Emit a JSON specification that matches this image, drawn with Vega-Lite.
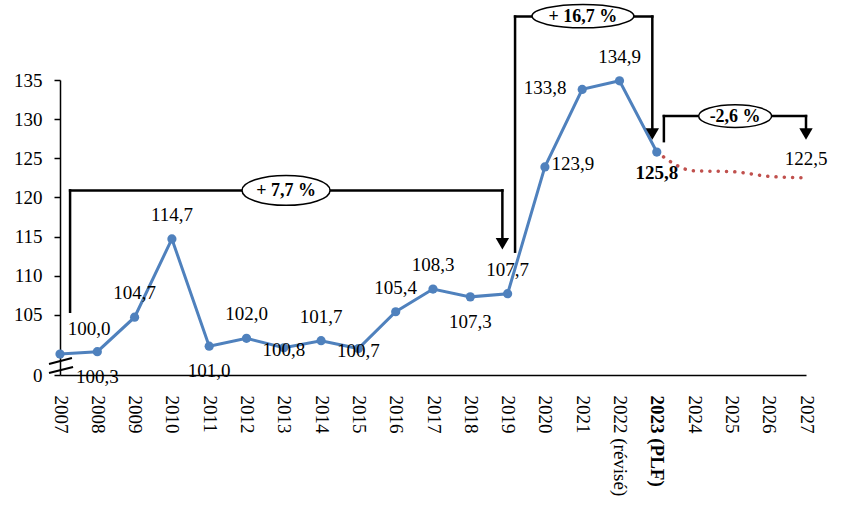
{
  "$schema": "https://vega.github.io/schema/vega-lite/v6.json",
  "width": 746,
  "height": 295,
  "autosize": {"type": "none"},
  "padding": {"left": 60, "top": 80, "right": 36, "bottom": 137},
  "background": "white",
  "config": {"view": {"stroke": null}, "font": "Liberation Serif", "text": {"font": "Liberation Serif", "color": "black"}},
  "datasets": {
    "serie": [
      {"year": 2007, "value": 100.0}, {"year": 2008, "value": 100.3}, {"year": 2009, "value": 104.7},
      {"year": 2010, "value": 114.7}, {"year": 2011, "value": 101.0}, {"year": 2012, "value": 102.0},
      {"year": 2013, "value": 100.8}, {"year": 2014, "value": 101.7}, {"year": 2015, "value": 100.7},
      {"year": 2016, "value": 105.4}, {"year": 2017, "value": 108.3}, {"year": 2018, "value": 107.3},
      {"year": 2019, "value": 107.7}, {"year": 2020, "value": 123.9}, {"year": 2021, "value": 133.8},
      {"year": 2022, "value": 134.9}, {"year": 2023, "value": 125.8}
    ],
    "prev": [
      {"year": 2023, "value": 125.8}, {"year": 2024, "value": 123.4}, {"year": 2025, "value": 123.3},
      {"year": 2026, "value": 122.7}, {"year": 2027, "value": 122.5}
    ],
    "etiq": [
      {"year": 2007, "value": 100.0, "label": "100,0", "pos": "hautdroite"},
      {"year": 2008, "value": 100.3, "label": "100,3", "pos": "bas"},
      {"year": 2009, "value": 104.7, "label": "104,7", "pos": "haut"},
      {"year": 2010, "value": 114.7, "label": "114,7", "pos": "haut"},
      {"year": 2011, "value": 101.0, "label": "101,0", "pos": "bas"},
      {"year": 2012, "value": 102.0, "label": "102,0", "pos": "haut"},
      {"year": 2013, "value": 100.8, "label": "100,8", "pos": "sur"},
      {"year": 2014, "value": 101.7, "label": "101,7", "pos": "haut"},
      {"year": 2015, "value": 100.7, "label": "100,7", "pos": "sur"},
      {"year": 2016, "value": 105.4, "label": "105,4", "pos": "haut"},
      {"year": 2017, "value": 108.3, "label": "108,3", "pos": "haut"},
      {"year": 2018, "value": 107.3, "label": "107,3", "pos": "bas"},
      {"year": 2019, "value": 107.7, "label": "107,7", "pos": "haut"},
      {"year": 2020, "value": 123.9, "label": "123,9", "pos": "droite"},
      {"year": 2021, "value": 133.8, "label": "133,8", "pos": "gauche"},
      {"year": 2022, "value": 134.9, "label": "134,9", "pos": "haut"},
      {"year": 2023, "value": 125.8, "label": "125,8", "pos": "basgras"},
      {"year": 2027, "value": 122.5, "label": "122,5", "pos": "hautproche"}
    ],
    "crochets": [
      {"year": 2007.27, "year2": 2007.27, "value": 105.4, "value2": 120.9},
      {"year": 2007.27, "year2": 2018.86, "value": 120.9, "value2": 120.9},
      {"year": 2018.86, "year2": 2018.86, "value": 120.9, "value2": 114.9},
      {"year": 2019.2, "year2": 2019.2, "value": 113.07, "value2": 143.1},
      {"year": 2019.2, "year2": 2022.88, "value": 143.1, "value2": 143.1},
      {"year": 2022.88, "year2": 2022.88, "value": 143.1, "value2": 128.7},
      {"year": 2023.19, "year2": 2023.19, "value": 127.19, "value2": 130.39},
      {"year": 2023.19, "year2": 2027.0, "value": 130.39, "value2": 130.39},
      {"year": 2027.0, "year2": 2027.0, "value": 130.39, "value2": 128.7}
    ],
    "rupture": [
      {"year": 2006.705, "year2": 2007.32, "value": 98.73, "value2": 99.5},
      {"year": 2006.705, "year2": 2007.35, "value": 97.58, "value2": 98.34}
    ],
    "fleches": [
      {"year": 2018.86, "value": 114.09},
      {"year": 2022.88, "value": 128.11},
      {"year": 2027.0, "value": 128.11}
    ],
    "bulles": [
      {"year": 2013.06, "value": 120.9, "label": "+ 7,7 %", "id": "a"},
      {"year": 2021.02, "value": 143.16, "label": "+ 16,7 %", "id": "b"},
      {"year": 2025.1, "value": 130.39, "label": "-2,6 %", "id": "c"}
    ]
  },
  "encoding": {
    "x": {
      "field": "year", "type": "quantitative",
      "scale": {"domain": [2007, 2027], "nice": false, "zero": false},
      "axis": {
        "title": null, "grid": false, "ticks": false, "tickSize": 0,
        "values": [2007, 2008, 2009, 2010, 2011, 2012, 2013, 2014, 2015, 2016, 2017, 2018, 2019, 2020, 2021, 2022, 2023, 2024, 2025, 2026, 2027],
        "labelExpr": "datum.value == 2022 ? '2022 (révisé)' : datum.value == 2023 ? '2023 (PLF)' : format(datum.value, 'd')",
        "labelAngle": 90, "labelPadding": 20, "labelFontSize": 19, "labelFont": "Liberation Serif",
        "labelColor": "black", "labelOverlap": false, "labelFlush": false, "labelBound": false,
        "labelFontWeight": {"condition": {"test": "datum.value == 2023", "value": "bold"}, "value": "normal"},
        "domainColor": "black", "domainWidth": 1.5
      }
    },
    "y": {
      "field": "value", "type": "quantitative",
      "scale": {"domain": [97.32, 135], "nice": false, "zero": false},
      "axis": {
        "title": null, "grid": false,
        "values": [97.32, 105, 110, 115, 120, 125, 130, 135],
        "labelExpr": "datum.value < 100 ? '0' : format(datum.value, 'd')",
        "tickSize": 6, "tickColor": "black", "tickWidth": 1.5, "domainColor": "black", "domainWidth": 1.5,
        "labelFontSize": 19, "labelFont": "Liberation Serif", "labelColor": "black", "labelPadding": 12
      }
    }
  },
  "layer": [
    {
      "data": {"name": "rupture"},
      "mark": {"type": "rule", "color": "black", "strokeWidth": 2},
      "encoding": {"x2": {"field": "year2"}, "y2": {"field": "value2"}}
    },
    {
      "data": {"name": "prev"},
      "mark": {"type": "line", "color": "#C0504D", "strokeWidth": 3.5, "strokeDash": [0.1, 8.2], "strokeCap": "round", "interpolate": "monotone"},
      "encoding": {}
    },
    {
      "data": {"name": "serie"},
      "mark": {"type": "line", "color": "#4F81BD", "strokeWidth": 3, "point": {"filled": true, "size": 85, "color": "#4F81BD"}},
      "encoding": {}
    },
    {
      "data": {"name": "crochets"},
      "mark": {"type": "rule", "color": "black", "strokeWidth": 2.5, "strokeCap": "square"},
      "encoding": {"x2": {"field": "year2"}, "y2": {"field": "value2"}}
    },
    {
      "data": {"name": "fleches"},
      "mark": {"type": "point", "shape": "triangle-down", "filled": true, "color": "black", "size": 180, "opacity": 1},
      "encoding": {}
    },
    {
      "data": {"name": "bulles"},
      "transform": [{"filter": "datum.id === 'a'"}],
      "mark": {"type": "point", "shape": "M-1,0A1,0.34 0 1,1 1,0A1,0.34 0 1,1 -1,0Z", "size": 7744, "filled": true, "fill": "white", "stroke": "black", "strokeWidth": 1.5, "opacity": 1},
      "encoding": {}
    },
    {
      "data": {"name": "bulles"},
      "transform": [{"filter": "datum.id === 'b'"}],
      "mark": {"type": "point", "shape": "M-1,0A1,0.23 0 1,1 1,0A1,0.23 0 1,1 -1,0Z", "size": 10400, "filled": true, "fill": "white", "stroke": "black", "strokeWidth": 1.5, "opacity": 1},
      "encoding": {}
    },
    {
      "data": {"name": "bulles"},
      "transform": [{"filter": "datum.id === 'c'"}],
      "mark": {"type": "point", "shape": "M-1,0A1,0.31 0 1,1 1,0A1,0.31 0 1,1 -1,0Z", "size": 5329, "filled": true, "fill": "white", "stroke": "black", "strokeWidth": 1.5, "opacity": 1},
      "encoding": {}
    },
    {
      "data": {"name": "bulles"},
      "mark": {"type": "text", "fontSize": 18, "fontWeight": "bold", "align": "center", "baseline": "middle", "dy": 1},
      "encoding": {"text": {"field": "label"}}
    },
    {
      "data": {"name": "etiq"},
      "transform": [{"filter": "datum.pos === 'haut'"}],
      "mark": {"type": "text", "fontSize": 19, "align": "center", "baseline": "middle", "dy": -24},
      "encoding": {"text": {"field": "label"}}
    },
    {
      "data": {"name": "etiq"},
      "transform": [{"filter": "datum.pos === 'hautproche'"}],
      "mark": {"type": "text", "fontSize": 19, "align": "center", "baseline": "middle", "dy": -19},
      "encoding": {"text": {"field": "label"}}
    },
    {
      "data": {"name": "etiq"},
      "transform": [{"filter": "datum.pos === 'hautdroite'"}],
      "mark": {"type": "text", "fontSize": 19, "align": "center", "baseline": "middle", "dx": 29, "dy": -25},
      "encoding": {"text": {"field": "label"}}
    },
    {
      "data": {"name": "etiq"},
      "transform": [{"filter": "datum.pos === 'bas'"}],
      "mark": {"type": "text", "fontSize": 19, "align": "center", "baseline": "middle", "dy": 25},
      "encoding": {"text": {"field": "label"}}
    },
    {
      "data": {"name": "etiq"},
      "transform": [{"filter": "datum.pos === 'sur'"}],
      "mark": {"type": "text", "fontSize": 19, "align": "center", "baseline": "middle", "dy": 2},
      "encoding": {"text": {"field": "label"}}
    },
    {
      "data": {"name": "etiq"},
      "transform": [{"filter": "datum.pos === 'droite'"}],
      "mark": {"type": "text", "fontSize": 19, "align": "center", "baseline": "middle", "dx": 28, "dy": -3},
      "encoding": {"text": {"field": "label"}}
    },
    {
      "data": {"name": "etiq"},
      "transform": [{"filter": "datum.pos === 'gauche'"}],
      "mark": {"type": "text", "fontSize": 19, "align": "center", "baseline": "middle", "dx": -37, "dy": -1},
      "encoding": {"text": {"field": "label"}}
    },
    {
      "data": {"name": "etiq"},
      "transform": [{"filter": "datum.pos === 'basgras'"}],
      "mark": {"type": "text", "fontSize": 19, "fontWeight": "bold", "align": "center", "baseline": "middle", "dy": 21},
      "encoding": {"text": {"field": "label"}}
    }
  ]
}
